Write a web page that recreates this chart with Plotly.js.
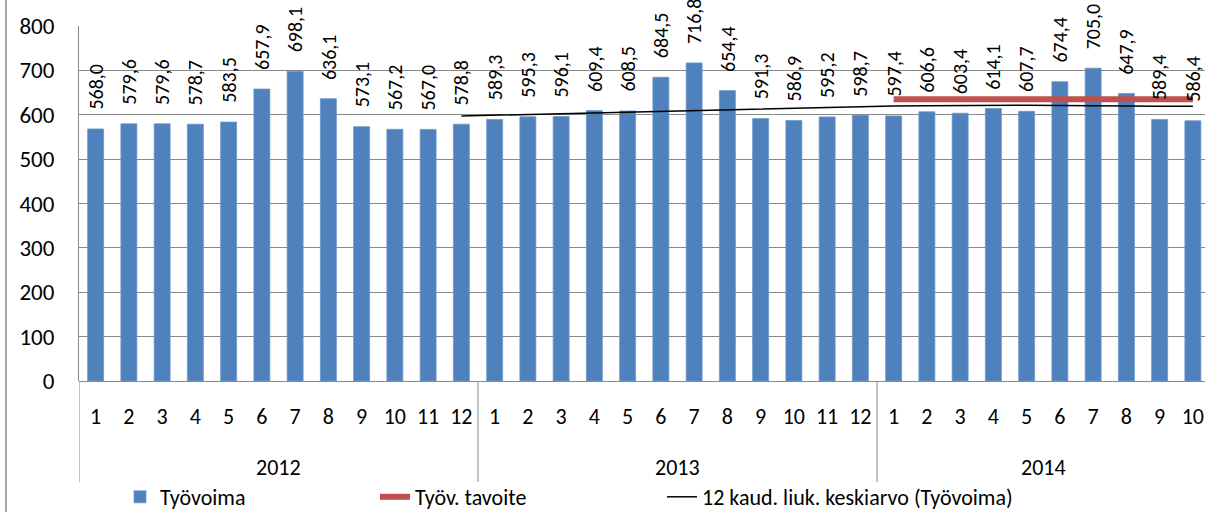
<!DOCTYPE html>
<html>
<head>
<meta charset="utf-8">
<script src="https://cdn.plot.ly/plotly-3.0.1.min.js"></script>
<style>
html,body{margin:0;padding:0;background:#fff;overflow:hidden;}
#chart{width:1205px;height:512px;}
</style>
</head>
<body>
<div id="chart"></div>
<script>
// ---- data ----
const years = ["2012","2013","2014"];
const monthsPerYear = [12, 12, 10];
const monthLabels = ["1","2","3","4","5","6","7","8","9","10","11","12",
                     "1","2","3","4","5","6","7","8","9","10","11","12",
                     "1","2","3","4","5","6","7","8","9","10"];
const tyovoima = [568.0,579.6,579.6,578.7,583.5,657.9,698.1,636.1,573.1,567.2,567.0,578.8,
                  589.3,595.3,596.1,609.4,608.5,684.5,716.8,654.4,591.3,586.9,595.2,598.7,
                  597.4,606.6,603.4,614.1,607.7,674.4,705.0,647.9,589.4,586.4];
// target (2014 months)
const tavoiteStart = 24;
const tavoite = [635,635,635,635,635,635,635,635,635,635];
// 12-period moving average, from 2012-12 onward
const maStart = 11;
const movingAvg = [597.3,599.1,600.4,601.8,604.3,606.4,608.6,610.2,611.7,613.2,614.9,617.2,
                   618.9,619.6,620.5,621.1,621.5,621.4,620.6,619.6,619.1,618.9,618.9];

// ---- build ----
const idx = tyovoima.map((_, i) => i);
const FONT = "Carlito, 'Open Sans', sans-serif";
const GRID = "#898989";

const traces = [
  {type:"bar", name:"Työvoima", x: idx, y: tyovoima, width:0.48,
   marker:{color:"#4F81BD", line:{color:"#6B97CC", width:0.8}}, legend:"legend", hoverinfo:"y"},
  {type:"scatter", mode:"lines", name:"Työv. tavoite",
   x: tavoite.map((_, i) => tavoiteStart + i), y: tavoite,
   line:{color:"#C0504D", width:6}, legend:"legend2"},
  {type:"scatter", mode:"lines", name:"12 kaud. liuk. keskiarvo (Työvoima)",
   x: movingAvg.map((_, i) => maStart + i), y: movingAvg,
   line:{color:"#000000", width:1.5}, legend:"legend3"}
];

const annotations = [];
tyovoima.forEach((v, i) => {
  annotations.push({xref:"x", yref:"y", x:i, y:v, text: v.toFixed(1).replace(".", ","),
    showarrow:false, textangle:-90, xanchor:"center", yanchor:"bottom", yshift:17,
    font:{family:FONT, size:20, color:"#000"}});
});
// year labels and dividers
const shapes = [];
const axisBottom = -101/355;
let start = 0;
years.forEach((yr, k) => {
  const n = monthsPerYear[k];
  annotations.push({xref:"x", yref:"paper", x: start + (n - 1) / 2, y: -86/355,
    text: yr, showarrow:false, xanchor:"center", yanchor:"middle",
    font:{family:FONT, size:22, color:"#000"}});
  shapes.push({type:"line", xref:"x", yref:"paper", x0:start-0.5, x1:start-0.5,
    y0:0, y1:axisBottom, line:{color:GRID, width:1}});
  start += n;
});
// outer chart border (left)
shapes.push({type:"line", xref:"paper", yref:"paper", x0:-73/1126, x1:-73/1126,
  y0:-131/355, y1:1+26/355, line:{color:GRID, width:1.5}});

const legendBase = {orientation:"h", yanchor:"middle", y:-116/355, xanchor:"left",
  font:{family:FONT, size:22, color:"#000"}, bgcolor:"rgba(0,0,0,0)"};

const layout = {
  width:1205, height:512,
  margin:{l:79, r:0, t:26, b:131, autoexpand:false},
  paper_bgcolor:"#fff", plot_bgcolor:"#fff",
  font:{family:FONT, color:"#000"},
  showlegend:true,
  legend: Object.assign({}, legendBase, {x:(120-79)/1126}),
  legend2: Object.assign({}, legendBase, {x:(375-79)/1126}),
  legend3: Object.assign({}, legendBase, {x:(662-79)/1126}),
  xaxis:{range:[-0.5, -0.5 + 1126/33.25], tickvals: idx, ticktext: monthLabels,
    ticks:"", showgrid:false, zeroline:false, showline:false, ticklabeloverflow:"allow",
    automargin:false,
    tickfont:{family:FONT, size:22, color:"#000"}, ticklabelstandoff:20, fixedrange:true},
  yaxis:{range:[0,800], dtick:100, tick0:0, showgrid:true, gridcolor:GRID, gridwidth:1,
    zeroline:true, zerolinecolor:GRID, zerolinewidth:1, automargin:false,
    showline:true, linecolor:GRID, linewidth:1, ticks:"",
    tickfont:{family:FONT, size:23, color:"#000"}, ticklabelstandoff:19, fixedrange:true},
  bargap:0.5,
  annotations: annotations,
  shapes: shapes
};

Plotly.newPlot("chart", traces, layout, {displayModeBar:false, staticPlot:true});
</script>
</body>
</html>
